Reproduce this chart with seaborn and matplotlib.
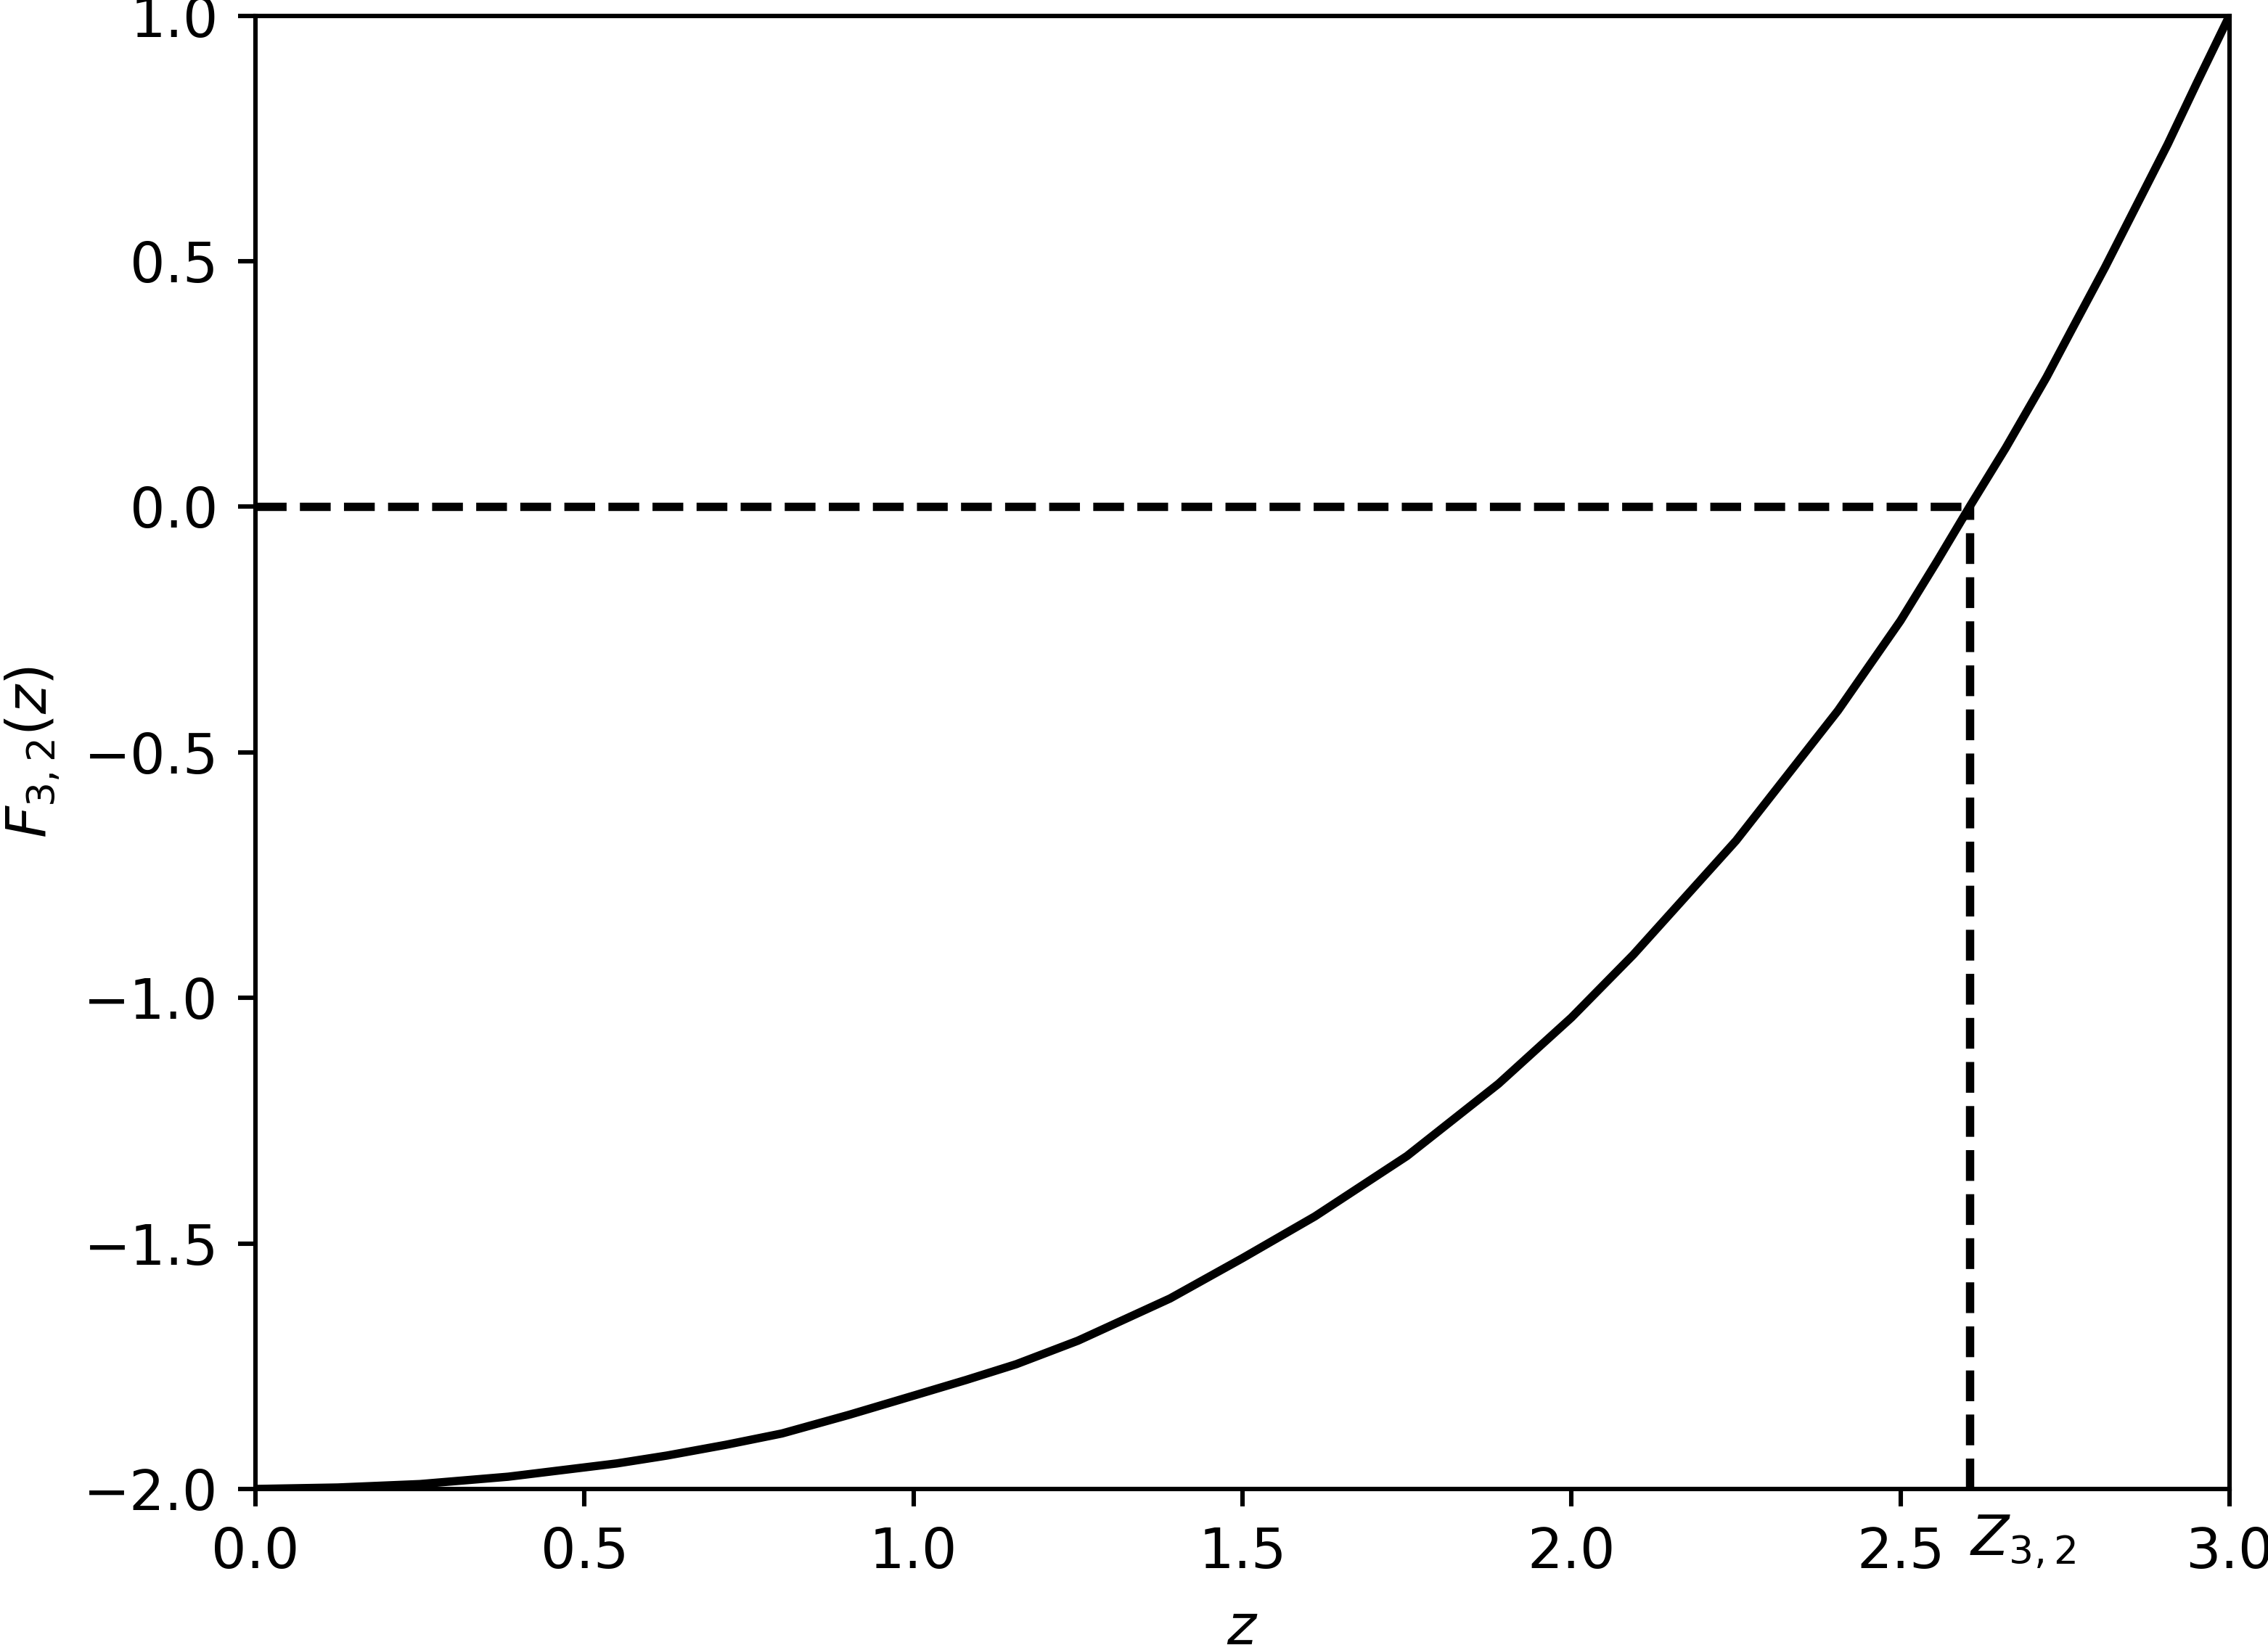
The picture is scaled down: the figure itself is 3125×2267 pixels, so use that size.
import matplotlib
matplotlib.use("Agg")
import matplotlib.pyplot as plt
import seaborn as sns

# values
z_vals = [0.0, 0.125, 0.25, 0.384, 0.549, 0.625, 0.715, 0.8, 0.902, 1.0, 1.08,
          1.156, 1.25, 1.39, 1.5, 1.61, 1.75, 1.889, 2.0, 2.094, 2.25, 2.405,
          2.5, 2.556, 2.605, 2.66, 2.722, 2.76, 2.811, 2.86, 2.906, 2.95, 3.0]
f_vals = [-2.0, -1.997, -1.99, -1.975, -1.948, -1.932, -1.910, -1.887, -1.849, -1.810, -1.778,
          -1.746, -1.698, -1.612, -1.530, -1.445, -1.322, -1.175, -1.040, -0.912, -0.680, -0.415,
          -0.232, -0.110, 0.0, 0.120, 0.264, 0.360, 0.488, 0.617, 0.738, 0.862, 1.0]

z_root = 2.605      # Z_{3,2}
f_level = 0.0
x_range = (0.0, 3.0)
y_range = (-2.0, 1.0)

sns.set_style("ticks", {"axes.edgecolor": "black", "text.color": "black",
                        "axes.labelcolor": "black", "xtick.color": "black",
                        "ytick.color": "black"})
plt.rcParams['font.family'] = ['DejaVu Sans']
plt.rcParams['mathtext.fontset'] = 'dejavusans'
plt.rcParams['font.size'] = 10
plt.rcParams['axes.linewidth'] = 0.8
plt.rcParams['xtick.major.width'] = 0.8
plt.rcParams['ytick.major.width'] = 0.8
plt.rcParams['xtick.major.size'] = 3.2
plt.rcParams['ytick.major.size'] = 3.2

dpi = 550
fig = plt.figure(figsize=(3125 / dpi, 2267 / dpi), dpi=dpi)
ax = fig.add_axes([352 / 3125, 215 / 2267, 2720 / 3125, 2030.5 / 2267])

ax.hlines(f_level, x_range[0], z_root, colors='black', linestyles='--', lw=1.5)
ax.vlines(z_root, y_range[0], f_level, colors='black', linestyles='--', lw=1.5)
sns.lineplot(x=z_vals, y=f_vals, color='black', lw=1.5, ax=ax, zorder=3)

ax.set_xlim(*x_range)
ax.set_ylim(*y_range)
ax.set_xticks([0.0, 0.5, 1.0, 1.5, 2.0, 2.5, 3.0])
ax.set_yticks([-2.0, -1.5, -1.0, -0.5, 0.0, 0.5, 1.0])
ax.set_xlabel('$z$')
ax.set_ylabel('$F_{3,2}(z)$')
ax.text(z_root, y_range[0] - 0.05, '$Z_{3,2}$', ha='left', va='top', fontsize=10)

fig.savefig('out.png', dpi=dpi)
